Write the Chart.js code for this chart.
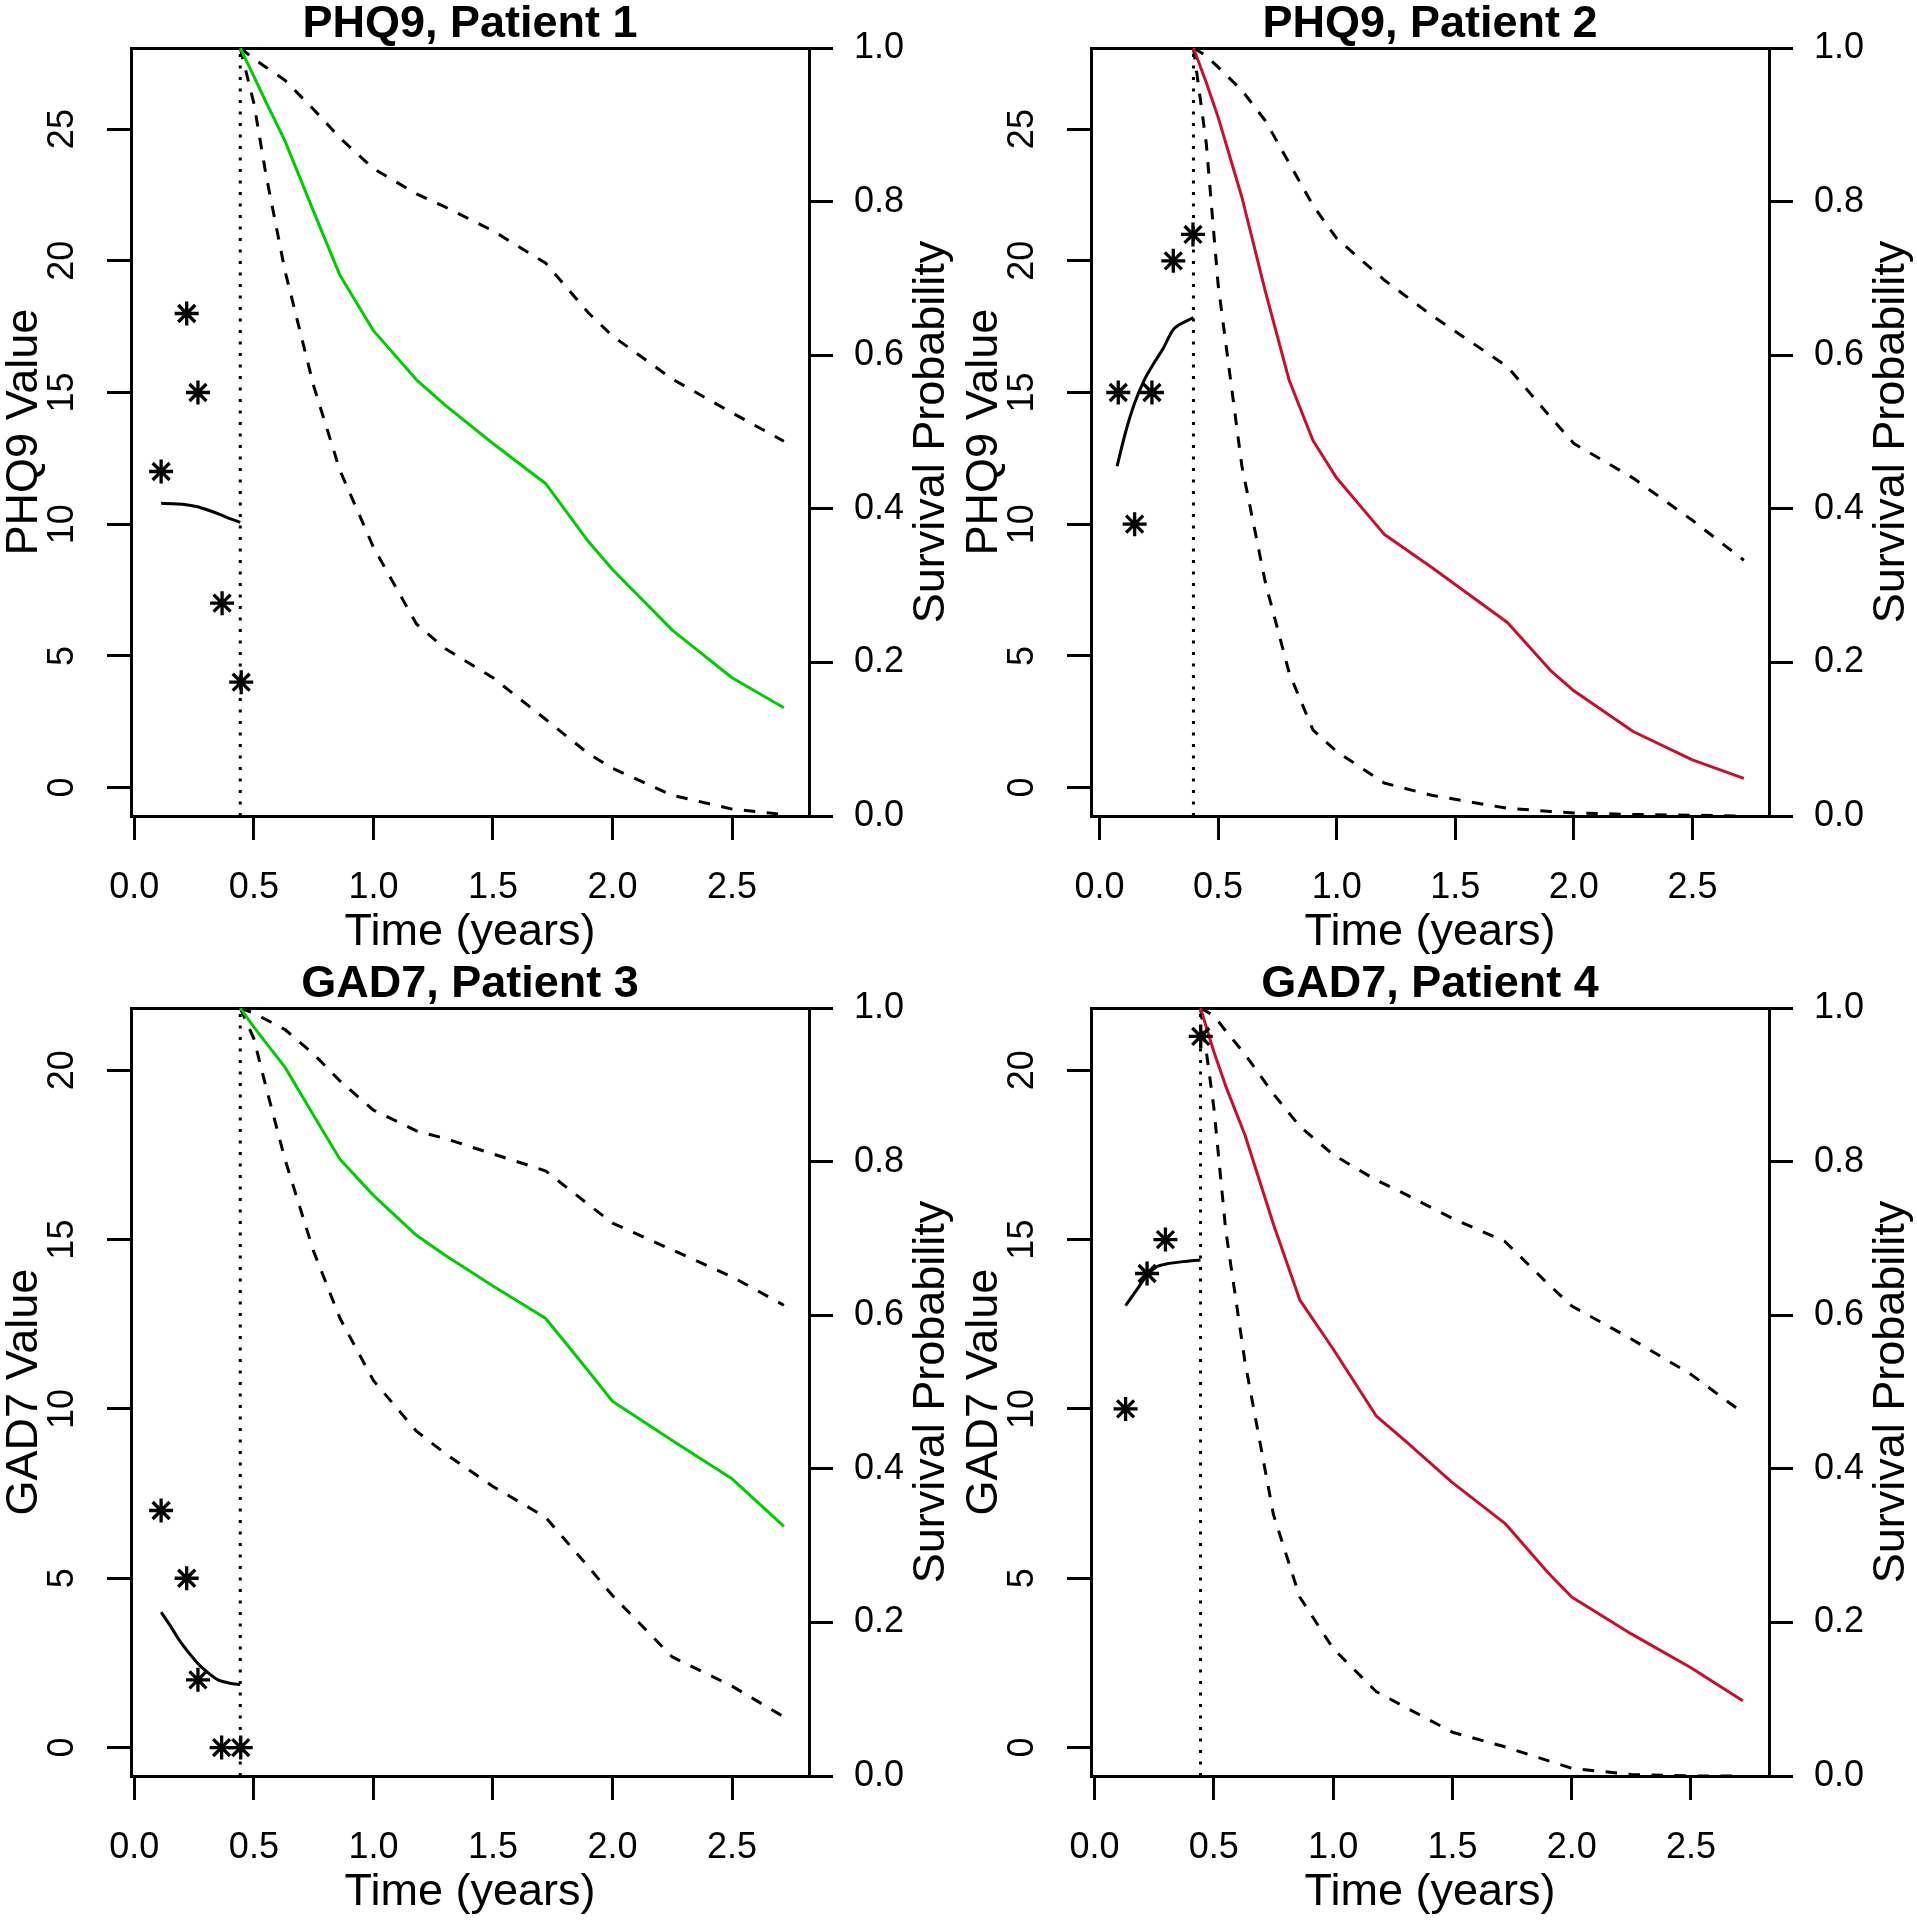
<!DOCTYPE html>
<html><head><meta charset="utf-8">
<script src="https://cdn.jsdelivr.net/npm/chart.js@4"></script>
<style>
html,body{margin:0;padding:0;background:#fff;}
#wrap{position:relative;width:1917px;height:1920px;background:#fff;overflow:hidden;}
.panel{position:absolute;}
canvas{display:block;}
</style></head><body>
<div id="wrap">
<div class="panel" style="left:0px;top:0px"><canvas id="c1" width="958" height="960"></canvas></div>
<div class="panel" style="left:960px;top:0px"><canvas id="c2" width="957" height="960"></canvas></div>
<div class="panel" style="left:0px;top:960px"><canvas id="c3" width="958" height="960"></canvas></div>
<div class="panel" style="left:960px;top:960px"><canvas id="c4" width="957" height="960"></canvas></div>
</div>
<script>
// ---------- tick labels ----------
const xTickValues = [0, 0.5, 1, 1.5, 2, 2.5];
const xTickLabels = ['0.0', '0.5', '1.0', '1.5', '2.0', '2.5'];
const survTickValues = [0, 0.2, 0.4, 0.6, 0.8, 1.0];
const survTickLabels = ['0.0', '0.2', '0.4', '0.6', '0.8', '1.0'];
const phqTickValues = [0, 5, 10, 15, 20, 25];
const phqTickLabels = ['0', '5', '10', '15', '20', '25'];
const gadTickValues = [0, 5, 10, 15, 20];
const gadTickLabels = ['0', '5', '10', '15', '20'];
const survRange = [0, 1];
const phqRange = [-1.08, 28.08];
const gadRange = [-0.84, 21.84];

// ---------- Panel 1: PHQ9, Patient 1 ----------
const p1Title = 'PHQ9, Patient 1';
const p1XRange = [-0.014, 2.822];
const p1ObsTime = [0.112, 0.219, 0.266, 0.367, 0.447];
const p1ObsValue = [12, 18, 15, 7, 4];
const p1FitTime = [0.112, 0.16, 0.21, 0.26, 0.31, 0.36, 0.40, 0.443];
const p1FitValue = [10.79, 10.78, 10.75, 10.67, 10.53, 10.36, 10.21, 10.07];
const p1Landmark = 0.443;
const p1SurvTime = [0.443, 0.5, 0.55, 0.63, 0.75, 0.86, 1.0, 1.18, 1.3, 1.5, 1.72, 1.9, 2.0, 2.25, 2.5, 2.717];
const p1Surv  = [1.0, 0.963, 0.930, 0.879, 0.787, 0.704, 0.632, 0.568, 0.535, 0.485, 0.433, 0.357, 0.321, 0.242, 0.180, 0.141];
const p1Upper = [1.0, 0.986, 0.975, 0.958, 0.920, 0.883, 0.843, 0.810, 0.793, 0.762, 0.720, 0.655, 0.625, 0.569, 0.525, 0.488];
const p1Lower = [1.0, 0.928, 0.836, 0.710, 0.560, 0.450, 0.350, 0.250, 0.218, 0.180, 0.126, 0.081, 0.062, 0.027, 0.009, 0.002];

// ---------- Panel 2: PHQ9, Patient 2 ----------
const p2Title = 'PHQ9, Patient 2';
const p2XRange = [-0.036, 2.823];
const p2ObsTime = [0.079, 0.148, 0.221, 0.311, 0.394];
const p2ObsValue = [15, 10, 15, 20, 21];
const p2FitTime = [0.074, 0.11, 0.148, 0.19, 0.225, 0.27, 0.316, 0.396];
const p2FitValue = [12.2, 13.5, 14.6, 15.5, 16.05, 16.7, 17.44, 17.85];
const p2Landmark = 0.396;
const p2SurvTime = [0.396, 0.45, 0.5, 0.6, 0.7, 0.8, 0.9, 1.0, 1.2, 1.4, 1.72, 1.9, 2.0, 2.25, 2.5, 2.717];
const p2Surv  = [1.0, 0.955, 0.910, 0.806, 0.682, 0.567, 0.489, 0.440, 0.367, 0.324, 0.252, 0.190, 0.163, 0.110, 0.073, 0.049];
const p2Upper = [1.0, 0.990, 0.975, 0.945, 0.905, 0.850, 0.795, 0.752, 0.698, 0.652, 0.585, 0.520, 0.485, 0.440, 0.385, 0.333];
const p2Lower = [1.0, 0.876, 0.692, 0.456, 0.303, 0.186, 0.112, 0.084, 0.043, 0.027, 0.010, 0.006, 0.004, 0.002, 0.001, 0.0];

// ---------- Panel 3: GAD7, Patient 3 ----------
const p3Title = 'GAD7, Patient 3';
const p3XRange = [-0.014, 2.822];
const p3ObsTime = [0.112, 0.219, 0.266, 0.365, 0.445];
const p3ObsValue = [7, 5, 2, 0, 0];
const p3FitTime = [0.112, 0.15, 0.19, 0.23, 0.27, 0.31, 0.35, 0.40, 0.443];
const p3FitValue = [4.0, 3.6, 3.15, 2.78, 2.45, 2.2, 2.0, 1.9, 1.86];
const p3Landmark = 0.443;
const p3SurvTime = [0.443, 0.5, 0.55, 0.63, 0.75, 0.86, 1.0, 1.18, 1.3, 1.5, 1.72, 1.9, 2.0, 2.25, 2.5, 2.717];
const p3Surv  = [1.0, 0.975, 0.955, 0.923, 0.860, 0.803, 0.756, 0.704, 0.678, 0.638, 0.596, 0.527, 0.488, 0.437, 0.387, 0.325];
const p3Upper = [1.0, 0.993, 0.985, 0.972, 0.940, 0.905, 0.867, 0.840, 0.830, 0.810, 0.788, 0.744, 0.720, 0.685, 0.650, 0.613];
const p3Lower = [1.0, 0.960, 0.898, 0.803, 0.683, 0.596, 0.515, 0.449, 0.420, 0.377, 0.337, 0.272, 0.235, 0.155, 0.117, 0.077];

// ---------- Panel 4: GAD7, Patient 4 ----------
const p4Title = 'GAD7, Patient 4';
const p4XRange = [-0.015, 2.827];
const p4ObsTime = [0.13, 0.22, 0.297, 0.445];
const p4ObsValue = [10, 14, 15, 21];
const p4FitTime = [0.13, 0.18, 0.22, 0.26, 0.30, 0.37, 0.444];
const p4FitValue = [13.05, 13.55, 13.95, 14.2, 14.28, 14.35, 14.4];
const p4Landmark = 0.444;
const p4SurvTime = [0.444, 0.5, 0.55, 0.63, 0.75, 0.86, 1.0, 1.18, 1.3, 1.5, 1.72, 1.9, 2.0, 2.25, 2.5, 2.717];
const p4Surv  = [1.0, 0.943, 0.898, 0.835, 0.718, 0.620, 0.556, 0.469, 0.437, 0.382, 0.329, 0.265, 0.233, 0.185, 0.141, 0.098];
const p4Upper = [1.0, 0.990, 0.970, 0.940, 0.888, 0.846, 0.809, 0.776, 0.758, 0.726, 0.696, 0.641, 0.612, 0.569, 0.523, 0.473];
const p4Lower = [1.0, 0.870, 0.710, 0.540, 0.340, 0.233, 0.166, 0.110, 0.090, 0.057, 0.038, 0.020, 0.010, 0.002, 0.0, 0.0];

// ---------- styling ----------
const FONT = "'Liberation Sans', Arial, Helvetica, sans-serif";
const GREEN = '#00CD00';
const RED = '#C8102E';

const rightTitlePlugin = {
  id: 'rightTitle',
  afterDraw(chart) {
    const sc = chart.scales.y2;
    const t = sc.options.title;
    const ctx = chart.ctx;
    ctx.save();
    ctx.font = 'normal 45px ' + FONT;
    ctx.fillStyle = '#000';
    ctx.textAlign = 'center';
    ctx.textBaseline = 'alphabetic';
    ctx.translate(sc.left + 135, (sc.top + sc.bottom) / 2);
    ctx.rotate(-Math.PI / 2);
    ctx.fillText(t.text, 0, 0);
    ctx.restore();
  }
};

function pts(xs, ys) { return xs.map((x, i) => ({x: x, y: ys[i]})); }

function makePanel(id, p) {
  const axisLine = {display: true, color: '#000', width: 3};
  const tickGrid = {display: true, drawOnChartArea: false, drawTicks: true, tickLength: 24, tickWidth: 3, lineWidth: 3, color: '#000', tickColor: '#000'};
  const tickFont = {family: FONT, size: 36, lineHeight: 1.2};
  const labFont = {family: FONT, size: 45, lineHeight: 1};
  new Chart(document.getElementById(id), {
    type: 'line',
    data: {
      datasets: [
        {label: 'Observed', type: 'scatter', data: pts(p.obsT, p.obsV), yAxisID: 'y', xAxisID: 'x',
         pointStyle: 'star', pointRadius: 12, pointBorderWidth: 3.3, borderColor: '#000', backgroundColor: '#000', showLine: false},
        {label: 'Fitted', data: pts(p.fitT, p.fitV), yAxisID: 'y', xAxisID: 'x',
         borderColor: '#000', borderWidth: 3, pointRadius: 0, tension: 0.3, fill: false},
        {label: 'Landmark', data: [{x: p.landmark, y: survRange[0]}, {x: p.landmark, y: survRange[1]}], yAxisID: 'y2', xAxisID: 'x',
         borderColor: '#000', borderWidth: 3, borderDash: [3, 8.5], pointRadius: 0, fill: false},
        {label: 'Survival', data: pts(p.survT, p.surv), yAxisID: 'y2', xAxisID: 'x',
         borderColor: p.color, borderWidth: 3, pointRadius: 0, fill: false},
        {label: 'Upper', data: pts(p.survT, p.upper), yAxisID: 'y2', xAxisID: 'x',
         borderColor: '#000', borderWidth: 3, borderDash: [11.5, 11.5], pointRadius: 0, fill: false},
        {label: 'Lower', data: pts(p.survT, p.lower), yAxisID: 'y2', xAxisID: 'x',
         borderColor: '#000', borderWidth: 3, borderDash: [11.5, 11.5], pointRadius: 0, fill: false}
      ]
    },
    options: {
      responsive: false, animation: false, devicePixelRatio: 1,
      layout: {padding: 0},
      elements: {line: {tension: 0, borderJoinStyle: 'round', borderCapStyle: 'butt'}},
      plugins: {legend: {display: false}, tooltip: {enabled: false}, title: {display: false}},
      scales: {
        x: {
          type: 'linear', position: 'bottom', min: p.xRange[0], max: p.xRange[1],
          afterFit: s => { s.height = 144; },
          afterBuildTicks: s => { s.ticks = xTickValues.map(v => ({value: v})); },
          ticks: {autoSkip: false, maxRotation: 0, minRotation: 0, padding: 26, color: '#000', font: tickFont,
                  callback: (v, i) => xTickLabels[i]},
          grid: tickGrid, border: axisLine,
          title: {display: true, text: 'Time (years)', color: '#000', font: labFont, padding: {top: 0, bottom: 5}}
        },
        xTop: {
          type: 'linear', position: 'top', min: p.xRange[0], max: p.xRange[1],
          afterFit: s => { s.height = 48; },
          ticks: {display: false},
          grid: {display: false, drawTicks: false, drawOnChartArea: false, lineWidth: 3},
          border: axisLine,
          title: {display: true, text: p.title, color: '#000',
                  font: {family: FONT, size: 45, weight: 'bold', lineHeight: 1}, padding: {top: 2.5, bottom: 0}}
        },
        y: {
          type: 'linear', position: 'left', min: p.yRange[0], max: p.yRange[1],
          afterFit: s => { s.width = 131; },
          afterBuildTicks: s => { s.ticks = p.yTicks.map(v => ({value: v})); },
          ticks: {autoSkip: false, minRotation: 90, maxRotation: 90, crossAlign: 'center', padding: 24, color: '#000', font: tickFont,
                  callback: (v, i) => p.yTickLabels[i]},
          grid: tickGrid, border: axisLine,
          title: {display: true, text: p.yTitle, color: '#000', font: labFont, padding: {top: 2, bottom: 0}}
        },
        y2: {
          type: 'linear', position: 'right', min: survRange[0], max: survRange[1],
          afterFit: s => { s.width = p.rightWidth; },
          afterBuildTicks: s => { s.ticks = survTickValues.map(v => ({value: v})); },
          ticks: {autoSkip: false, padding: 21, color: '#000', font: tickFont,
                  callback: (v, i) => survTickLabels[i]},
          grid: tickGrid, border: axisLine,
          title: {display: false, text: 'Survival Probability'}
        }
      }
    },
    plugins: [rightTitlePlugin]
  });
}

makePanel('c1', {title: p1Title, xRange: p1XRange, yRange: phqRange, yTicks: phqTickValues, yTickLabels: phqTickLabels, yTitle: 'PHQ9 Value',
  obsT: p1ObsTime, obsV: p1ObsValue, fitT: p1FitTime, fitV: p1FitValue, landmark: p1Landmark,
  survT: p1SurvTime, surv: p1Surv, upper: p1Upper, lower: p1Lower, color: GREEN, rightWidth: 149});
makePanel('c2', {title: p2Title, xRange: p2XRange, yRange: phqRange, yTicks: phqTickValues, yTickLabels: phqTickLabels, yTitle: 'PHQ9 Value',
  obsT: p2ObsTime, obsV: p2ObsValue, fitT: p2FitTime, fitV: p2FitValue, landmark: p2Landmark,
  survT: p2SurvTime, surv: p2Surv, upper: p2Upper, lower: p2Lower, color: RED, rightWidth: 148});
makePanel('c3', {title: p3Title, xRange: p3XRange, yRange: gadRange, yTicks: gadTickValues, yTickLabels: gadTickLabels, yTitle: 'GAD7 Value',
  obsT: p3ObsTime, obsV: p3ObsValue, fitT: p3FitTime, fitV: p3FitValue, landmark: p3Landmark,
  survT: p3SurvTime, surv: p3Surv, upper: p3Upper, lower: p3Lower, color: GREEN, rightWidth: 149});
makePanel('c4', {title: p4Title, xRange: p4XRange, yRange: gadRange, yTicks: gadTickValues, yTickLabels: gadTickLabels, yTitle: 'GAD7 Value',
  obsT: p4ObsTime, obsV: p4ObsValue, fitT: p4FitTime, fitV: p4FitValue, landmark: p4Landmark,
  survT: p4SurvTime, surv: p4Surv, upper: p4Upper, lower: p4Lower, color: RED, rightWidth: 148});
</script>
</body></html>
